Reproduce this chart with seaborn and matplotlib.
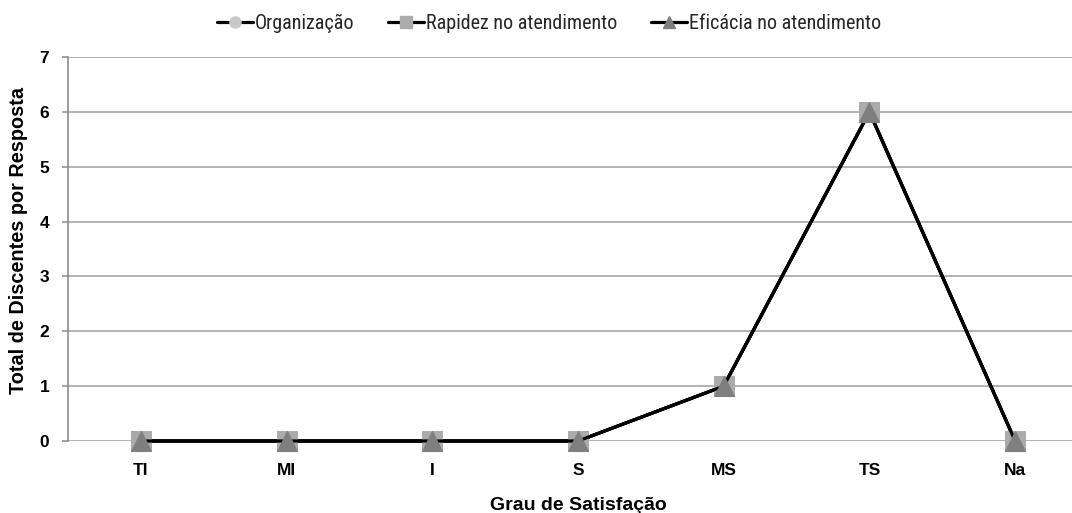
import matplotlib
matplotlib.use("Agg")
import matplotlib.pyplot as plt
from matplotlib.lines import Line2D
from matplotlib import font_manager
from matplotlib.font_manager import FontProperties
import seaborn as sns
import pandas as pd

categorias = ["TI", "MI", "I", "S", "MS", "TS", "Na"]
organizacao = [0, 0, 0, 0, 1, 6, 0]
rapidez = [0, 0, 0, 0, 1, 6, 0]
eficacia = [0, 0, 0, 0, 1, 6, 0]
series = ["Organização", "Rapidez no atendimento", "Eficácia no atendimento"]

sns.set_theme(style="white")
plt.rcParams["font.family"] = ["Liberation Sans", "DejaVu Sans"]


def fonte_condensada(size):
    """Pick a narrow/condensed regular face for the legend, if one is installed."""
    preferidas = ["Liberation Sans Narrow", "Noto Sans", "Open Sans", "Roboto", "DejaVu Sans"]
    cands = []
    for f in font_manager.fontManager.ttflist:
        fname = f.fname.lower()
        narrow = ("condensed" in fname or "narrow" in fname or f.stretch in ("condensed", "semi-condensed"))
        if not narrow:
            continue
        if "bold" in fname or "italic" in fname or "light" in fname or "thin" in fname \
                or "black" in fname or "medium" in fname or "oblique" in fname:
            continue
        if "extracondensed" in fname or "semicondensed" in fname or "mono" in fname or "serif" in fname:
            continue
        rank = next((i for i, p in enumerate(preferidas) if f.name.startswith(p)), len(preferidas))
        cands.append((rank, f.fname))
    if cands:
        cands.sort()
        return FontProperties(fname=cands[0][1], size=size)
    return FontProperties(family="Liberation Sans", size=size * 0.88)


df = pd.DataFrame({
    "Grau": categorias * 3,
    "Total": organizacao + rapidez + eficacia,
    "Serie": [series[0]] * 7 + [series[1]] * 7 + [series[2]] * 7,
})

fig = plt.figure(figsize=(10.72, 5.13), dpi=100)
ax = fig.add_axes([68 / 1072, 1 - 441 / 513, 1020 / 1072, 384 / 513])

estilos = [
    dict(marker="o", markerfacecolor="#c8c8c8", markeredgecolor="#c8c8c8", markersize=13),
    dict(marker="s", markerfacecolor="#ababab", markeredgecolor="#ababab", markersize=14.5),
    dict(marker="^", markerfacecolor="#7f7f7f", markeredgecolor="#7f7f7f", markersize=15),
]
for nome, est in zip(series, estilos):
    sub = df[df["Serie"] == nome]
    sns.lineplot(data=sub, x="Grau", y="Total", ax=ax, color="black",
                 linewidth=2.3, sort=False, legend=False, clip_on=False, **est)

ax.set_xlim(-0.5, 6.5)
ax.set_ylim(0, 7)
ax.set_yticks(range(0, 8))
ax.grid(axis="y", color="#a6a6a6", linewidth=1.2)
ax.grid(axis="x", visible=False)
ax.set_axisbelow(True)
for s in ["top", "right", "bottom"]:
    ax.spines[s].set_visible(False)
ax.spines["left"].set_color("#8c8c8c")
ax.spines["left"].set_linewidth(1.2)
ax.tick_params(axis="y", left=True, length=4.5, color="#8c8c8c", width=1.1, pad=9)
ax.tick_params(axis="x", bottom=False, pad=10)
for lab in ax.get_xticklabels() + ax.get_yticklabels():
    lab.set_fontweight("bold")
    lab.set_fontsize(12.5)
    lab.set_color("black")

ax.set_xlabel("Grau de Satisfação", fontsize=14, fontweight="bold", color="black")
ax.set_ylabel("Total de Discentes por Resposta", fontsize=14.3, fontweight="bold", color="black")
ax.xaxis.set_label_coords(0.5, -0.145)
ax.yaxis.set_label_coords(-0.039, 0.523)

handles = [
    Line2D([], [], color="black", linewidth=2.3, marker=e["marker"],
           markerfacecolor=e["markerfacecolor"], markeredgecolor=e["markeredgecolor"],
           markersize=8)
    for e in estilos
]
fig.legend(handles, series, loc="center", bbox_to_anchor=(549 / 1072, 1 - 23 / 513), ncol=3,
           frameon=False, handlelength=1.8, handletextpad=0.1, columnspacing=1.65,
           prop=fonte_condensada(14.5))

fig.savefig("out.png", dpi=100)
